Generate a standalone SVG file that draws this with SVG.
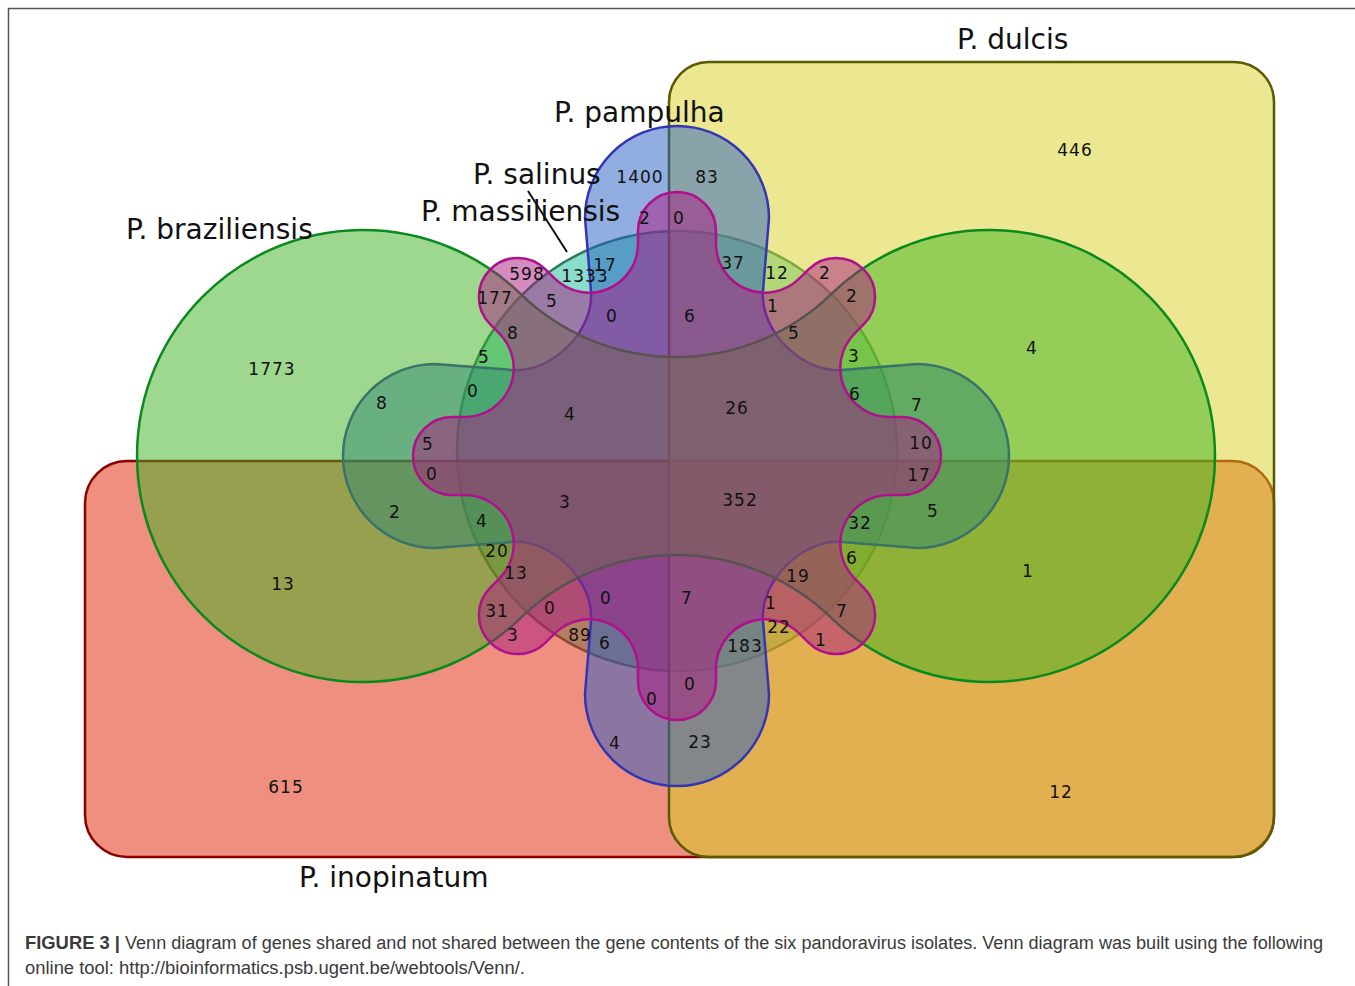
<svg xmlns="http://www.w3.org/2000/svg" width="1355" height="986" viewBox="0 0 1355 986">
<style>
.lbl{font-family:"DejaVu Sans",sans-serif;font-size:28px;fill:#111}
.n{font-family:"DejaVu Sans",sans-serif;font-size:17px;letter-spacing:1px;fill:#111;text-anchor:middle}
.cap{font-family:"Liberation Sans",Arial,sans-serif;font-size:18px;fill:#3a3a3a}
.sh{fill-opacity:0.5;stroke-width:2.5}
</style>
<rect width="1355" height="986" fill="#fff"/>
<path d="M8.5 986 V8.5 H1355" fill="none" stroke="#555" stroke-width="1.5"/>
<g id="set-salinus"><circle class="sh" cx="677" cy="451" r="220" fill="#15b997" stroke="#2a7a5a" stroke-width="2"/></g>
<g id="set-inopinatum"><rect class="sh" x="85" y="461" width="1189" height="396" rx="42" fill="#dd1f00" stroke="#8b0000"/></g>
<g id="set-dulcis"><rect class="sh" x="669" y="62" width="605" height="795" rx="40" fill="#d7d123" stroke="#5a5a00"/></g>
<g id="set-pampulha"><path class="sh" fill="#255dc1" stroke="#3434b4" d="M591 291 L585 218 A92 92 0 0 1 769 218 L763 291 C759.8 331 802 373.2 842 370 L917 364 A92 92 0 0 1 917 548 L842 542 C802 538.8 759.8 581 763 621 L769 694 A92 92 0 0 1 585 694 L591 621 C594.2 581 552 538.8 512 542 L435 548 A92 92 0 0 1 435 364 L512 370 C552 373.2 594.2 331 591 291 Z"/></g>
<g id="set-braziliensis"><path class="sh" fill="#3db11d" stroke="#0a8a1e" d="M520.5 293.9 A223.2 223.2 0 0 0 831.5 293.9 A226 226 0 1 1 831.5 618.1 A223.2 223.2 0 0 0 520.5 618.1 A226 226 0 1 1 520.5 293.9 Z"/></g>
<g id="set-massiliensis"><path class="sh" fill="#a91981" stroke="#b0108c" d="M638 244.6 L638 231 A39 39 0 0 1 716 231 L716 244.6 A48.9 48.9 0 0 0 798.9 278.94 L808.52 269.32 A39 39 0 0 1 863.68 324.48 L854.06 334.1 A48.9 48.9 0 0 0 888.4 417 L902 417 A39 39 0 0 1 902 495 L888.4 495 A48.9 48.9 0 0 0 854.06 577.9 L863.68 587.52 A39 39 0 0 1 808.52 642.68 L798.9 633.06 A48.9 48.9 0 0 0 716 667.4 L716 681 A39 39 0 0 1 638 681 L638 667.4 A48.9 48.9 0 0 0 555.1 633.06 L545.48 642.68 A39 39 0 0 1 490.32 587.52 L499.94 577.9 A48.9 48.9 0 0 0 465.6 495 L452 495 A39 39 0 0 1 452 417 L465.6 417 A48.9 48.9 0 0 0 499.94 334.1 L490.32 324.48 A39 39 0 0 1 545.48 269.32 L555.1 278.94 A48.9 48.9 0 0 0 638 244.6 Z"/></g>
<g id="connectors"><line x1="528" y1="191" x2="567" y2="252" stroke="#111" stroke-width="2"/></g>
<g id="label-dulcis"><text class="lbl" x="957" y="49">P. dulcis</text></g>
<g id="label-pampulha"><text class="lbl" x="554" y="122">P. pampulha</text></g>
<g id="label-salinus"><text class="lbl" x="473" y="184">P. salinus</text></g>
<g id="label-massiliensis"><text class="lbl" x="421" y="221">P. massiliensis</text></g>
<g id="label-braziliensis"><text class="lbl" x="126" y="239">P. braziliensis</text></g>
<g id="label-inopinatum"><text class="lbl" x="299" y="887">P. inopinatum</text></g>
<g id="counts">
<text class="n" x="1075" y="156">446</text>
<text class="n" x="640" y="183">1400</text>
<text class="n" x="707" y="183">83</text>
<text class="n" x="645" y="224">2</text>
<text class="n" x="679" y="224">0</text>
<text class="n" x="527" y="280">598</text>
<text class="n" x="585" y="282">1333</text>
<text class="n" x="605" y="271">17</text>
<text class="n" x="733" y="269">37</text>
<text class="n" x="777" y="279">12</text>
<text class="n" x="825" y="279">2</text>
<text class="n" x="495" y="304">177</text>
<text class="n" x="552" y="307">5</text>
<text class="n" x="773" y="312">1</text>
<text class="n" x="852" y="302">2</text>
<text class="n" x="612" y="322">0</text>
<text class="n" x="690" y="322">6</text>
<text class="n" x="513" y="339">8</text>
<text class="n" x="794" y="339">5</text>
<text class="n" x="272" y="375">1773</text>
<text class="n" x="484" y="363">5</text>
<text class="n" x="854" y="362">3</text>
<text class="n" x="1032" y="354">4</text>
<text class="n" x="382" y="409">8</text>
<text class="n" x="473" y="397">0</text>
<text class="n" x="570" y="420">4</text>
<text class="n" x="737" y="414">26</text>
<text class="n" x="855" y="400">6</text>
<text class="n" x="917" y="411">7</text>
<text class="n" x="428" y="450">5</text>
<text class="n" x="921" y="449">10</text>
<text class="n" x="432" y="480">0</text>
<text class="n" x="919" y="481">17</text>
<text class="n" x="565" y="508">3</text>
<text class="n" x="740" y="506">352</text>
<text class="n" x="395" y="518">2</text>
<text class="n" x="482" y="527">4</text>
<text class="n" x="933" y="517">5</text>
<text class="n" x="860" y="529">32</text>
<text class="n" x="497" y="557">20</text>
<text class="n" x="852" y="564">6</text>
<text class="n" x="283" y="590">13</text>
<text class="n" x="516" y="579">13</text>
<text class="n" x="798" y="582">19</text>
<text class="n" x="1028" y="577">1</text>
<text class="n" x="606" y="604">0</text>
<text class="n" x="687" y="604">7</text>
<text class="n" x="497" y="617">31</text>
<text class="n" x="550" y="614">0</text>
<text class="n" x="771" y="609">1</text>
<text class="n" x="842" y="617">7</text>
<text class="n" x="513" y="641">3</text>
<text class="n" x="580" y="641">89</text>
<text class="n" x="605" y="649">6</text>
<text class="n" x="779" y="633">22</text>
<text class="n" x="821" y="646">1</text>
<text class="n" x="745" y="652">183</text>
<text class="n" x="690" y="690">0</text>
<text class="n" x="652" y="705">0</text>
<text class="n" x="615" y="749">4</text>
<text class="n" x="700" y="748">23</text>
<text class="n" x="286" y="793">615</text>
<text class="n" x="1061" y="798">12</text>
</g>
<g id="caption">
<text class="cap" x="25" y="949" font-weight="bold" fill="#333" textLength="95" lengthAdjust="spacingAndGlyphs">FIGURE 3 |</text>
<text class="cap" x="125" y="949" textLength="1198" lengthAdjust="spacingAndGlyphs">Venn diagram of genes shared and not shared between the gene contents of the six pandoravirus isolates. Venn diagram was built using the following</text>
<text class="cap" x="25" y="974" textLength="500" lengthAdjust="spacingAndGlyphs">online tool: http://bioinformatics.psb.ugent.be/webtools/Venn/.</text>
</g>
</svg>
